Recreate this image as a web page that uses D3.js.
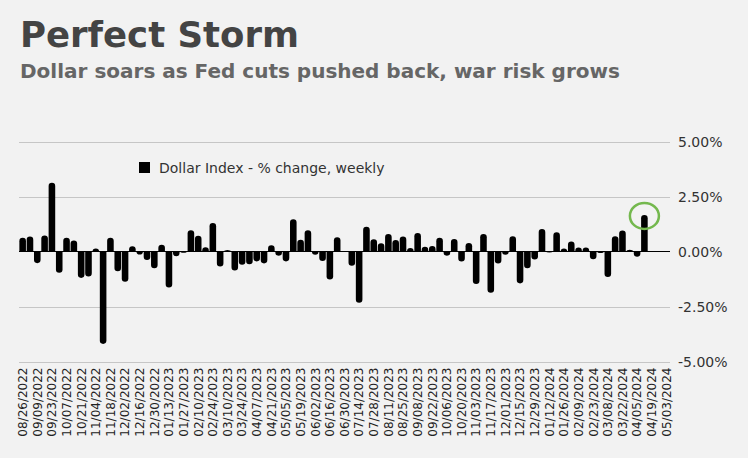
<!DOCTYPE html>
<html>
<head>
<meta charset="utf-8">
<script src="https://cdn.jsdelivr.net/npm/d3@7"></script>
<style>
  body { margin: 0; background: #f2f2f2; }
  svg { display: block; font-family: "DejaVu Sans", Verdana, sans-serif; }
</style>
</head>
<body>
<div id="chart"></div>
<script>
const W = 748, H = 458;

// weekly dates (Fridays)
const dates2022 = ["08/26","09/02","09/09","09/16","09/23","09/30","10/07","10/14","10/21","10/28",
  "11/04","11/11","11/18","11/25","12/02","12/09","12/16","12/23","12/30"];
const dates2023 = ["01/06","01/13","01/20","01/27","02/03","02/10","02/17","02/24","03/03","03/10",
  "03/17","03/24","03/31","04/07","04/14","04/21","04/28","05/05","05/12","05/19","05/26","06/02",
  "06/09","06/16","06/23","06/30","07/07","07/14","07/21","07/28","08/04","08/11","08/18","08/25",
  "09/01","09/08","09/15","09/22","09/29","10/06","10/13","10/20","10/27","11/03","11/10","11/17",
  "11/24","12/01","12/08","12/15","12/22","12/29"];
const dates2024 = ["01/05","01/12","01/19","01/26","02/02","02/09","02/16","02/23","03/01","03/08",
  "03/15","03/22","03/29","04/05","04/12","04/19","04/26","05/03"];

const weeks = dates2022.map(d => d + "/2022")
  .concat(dates2023.map(d => d + "/2023"))
  .concat(dates2024.map(d => d + "/2024"));

// Dollar Index, % change weekly (last three weeks have no data yet)
const pctChange = [
  0.62, 0.68, -0.53, 0.73, 3.13, -0.97, 0.63, 0.50, -1.20, -1.14,
  0.14, -4.20, 0.63, -0.90, -1.38, 0.24, -0.14, -0.39, -0.76, 0.31,
  -1.64, -0.22, -0.06, 0.97, 0.72, 0.19, 1.30, -0.68, 0.07, -0.86,
  -0.60, -0.58, -0.45, -0.54, 0.28, -0.19, -0.45, 1.47, 0.54, 0.97,
  -0.15, -0.43, -1.27, 0.65, 0.02, -0.65, -2.33, 1.13, 0.56, 0.37,
  0.80, 0.52, 0.68, 0.16, 0.84, 0.22, 0.25, 0.62, -0.19, 0.57,
  -0.46, 0.39, -1.48, 0.80, -1.88, -0.55, -0.15, 0.69, -1.45, -0.76,
  -0.36, 1.02, -0.04, 0.87, 0.14, 0.46, 0.18, 0.18, -0.35, -0.07,
  -1.16, 0.69, 0.95, 0.08, -0.24, 1.66, null, null, null
];

const yTicks = [5, 2.5, 0, -2.5, -5];
const highlightWeek = "04/12/2024";

const title = "Perfect Storm";
const subtitle = "Dollar soars as Fed cuts pushed back, war risk grows";
const legendLabel = "Dollar Index - % change, weekly";

const data = weeks.map((w, i) => ({ week: w, value: pctChange[i] }));

const svg = d3.select("#chart").append("svg")
  .attr("width", W)
  .attr("height", H);

svg.append("rect").attr("width", W).attr("height", H).attr("fill", "#f2f2f2");

// plot area
const plotLeft = 19, plotRight = 670, plotTop = 141.5, plotBottom = 361.5;

const x = d3.scaleBand()
  .domain(weeks)
  .range([plotLeft, plotRight])
  .paddingInner(0.1)
  .paddingOuter(0.05);

const y = d3.scaleLinear()
  .domain([-5, 5])
  .range([plotBottom, plotTop]);

// titles
svg.append("text")
  .attr("x", 20).attr("y", 47)
  .attr("font-size", 35.5).attr("font-weight", "bold")
  .attr("fill", "#444")
  .text(title);

svg.append("text")
  .attr("x", 20).attr("y", 78)
  .attr("font-size", 20).attr("font-weight", "bold")
  .attr("fill", "#666")
  .text(subtitle);

// gridlines + y labels
svg.append("g").selectAll("line")
  .data(yTicks.filter(t => t !== 0))
  .join("line")
  .attr("x1", plotLeft).attr("x2", plotRight)
  .attr("y1", d => Math.round(y(d)) + 0.5)
  .attr("y2", d => Math.round(y(d)) + 0.5)
  .attr("stroke", "#c6c6c6")
  .attr("stroke-width", 1);

svg.append("g").selectAll("text")
  .data(yTicks)
  .join("text")
  .attr("x", 678)
  .attr("y", d => y(d))
  .attr("dy", "0.36em")
  .attr("font-size", 14)
  .attr("fill", "#333")
  .text(d => d.toFixed(2) + "%");

// bars with rounded ends
function barPath(d) {
  const x0 = x(d.week), x1 = x0 + x.bandwidth();
  const y0 = y(0), y1 = y(d.value);
  const h = Math.abs(y1 - y0);
  const r = Math.min(x.bandwidth() / 2, h);
  if (d.value >= 0) {
    return `M${x0},${y0}V${y1 + r}A${x.bandwidth() / 2},${r} 0 0 1 ${x1},${y1 + r}V${y0}Z`;
  }
  return `M${x0},${y0}V${y1 - r}A${x.bandwidth() / 2},${r} 0 0 0 ${x1},${y1 - r}V${y0}Z`;
}

svg.append("g").selectAll("path")
  .data(data.filter(d => d.value !== null))
  .join("path")
  .attr("d", barPath)
  .attr("fill", "#000");

// zero line
svg.append("line")
  .attr("x1", plotLeft).attr("x2", plotRight)
  .attr("y1", y(0)).attr("y2", y(0))
  .attr("stroke", "#000")
  .attr("stroke-width", 1);

// x labels, every other week
svg.append("g").selectAll("text")
  .data(weeks.filter((w, i) => i % 2 === 0))
  .join("text")
  .attr("transform", d => `translate(${x(d) + x.bandwidth() / 2},${plotBottom + 6}) rotate(-90)`)
  .attr("text-anchor", "end")
  .attr("dy", "0.36em")
  .attr("font-size", 12)
  .attr("fill", "#222")
  .text(d => d);

// legend
svg.append("rect")
  .attr("x", 139).attr("y", 162)
  .attr("width", 11).attr("height", 11)
  .attr("fill", "#000");

svg.append("text")
  .attr("x", 159).attr("y", 173)
  .attr("font-size", 14)
  .attr("fill", "#333")
  .text(legendLabel);

// highlight circle on latest jump
const hl = data.find(d => d.week === highlightWeek);
svg.append("ellipse")
  .attr("cx", x(hl.week) + x.bandwidth() / 2)
  .attr("cy", y(hl.value) + 1)
  .attr("rx", 14.5).attr("ry", 13)
  .attr("fill", "none")
  .attr("stroke", "#74b84e")
  .attr("stroke-width", 2.5);
</script>
</body>
</html>
